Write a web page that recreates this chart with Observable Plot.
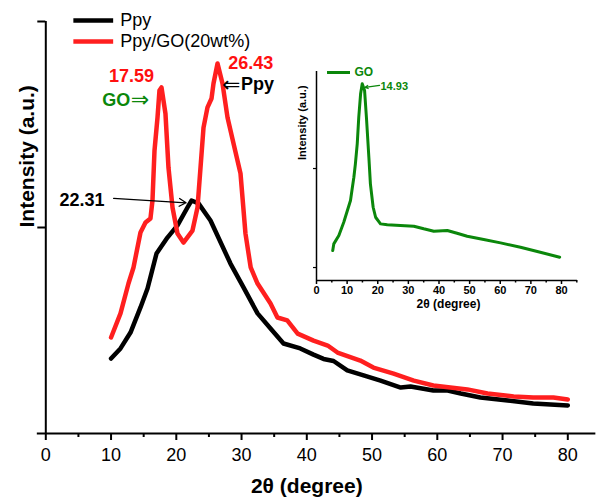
<!DOCTYPE html>
<html><head><meta charset="utf-8">
<script src="https://cdn.jsdelivr.net/npm/d3@7"></script>
<script src="https://cdn.jsdelivr.net/npm/@observablehq/plot@0.6"></script>
<style>
body{margin:0;background:#fff;}
#wrap{position:relative;width:596px;height:503px;overflow:hidden;background:#fff;}
#wrap svg{position:absolute;overflow:visible;background:transparent;}
</style></head><body><div id="wrap"></div>
<script>
// ---- main chart data (2θ in degrees, intensity in arbitrary units) ----
const ppyTheta = [10, 11.45, 12.98, 14.51, 15.59, 16.97, 18.64, 20.18, 21.71, 22.33, 23.4, 25.24, 28.3, 30.3, 32.45, 34.44, 36.43, 39.0, 41.03, 42.56, 44.1, 46.2, 48.7, 51.3, 54.4, 55.9, 59.4, 61.6, 63.6, 66.6, 70.8, 74.7, 80];
const ppyIntensity = [0.364, 0.413, 0.490, 0.612, 0.704, 0.874, 0.951, 1.010, 1.097, 1.131, 1.117, 1.034, 0.825, 0.709, 0.583, 0.510, 0.437, 0.413, 0.383, 0.362, 0.352, 0.306, 0.282, 0.257, 0.223, 0.228, 0.209, 0.209, 0.194, 0.175, 0.160, 0.146, 0.136];

const compTheta = [10, 11.45, 12.67, 13.44, 14.51, 15.28, 16.04, 16.35, 16.66, 17.12, 17.42, 17.73, 18.34, 18.8, 19.42, 20.18, 21.1, 22.48, 23.25, 23.71, 24.17, 24.78, 25.4, 25.7, 26.32, 27.08, 27.85, 28.77, 29.84, 30.6, 31.4, 32.45, 34.44, 35.5, 37.0, 38.6, 41.03, 43.2, 44.7, 48.2, 50.2, 53.3, 56.4, 59.4, 64.6, 67.7, 71.7, 74.7, 77.8, 80];
const compIntensity = [0.466, 0.583, 0.728, 0.806, 0.976, 1.024, 1.044, 1.131, 1.374, 1.534, 1.665, 1.680, 1.553, 1.291, 1.097, 0.971, 0.927, 0.985, 1.097, 1.291, 1.485, 1.583, 1.626, 1.699, 1.796, 1.699, 1.534, 1.408, 1.262, 0.971, 0.806, 0.728, 0.631, 0.563, 0.549, 0.485, 0.451, 0.427, 0.393, 0.354, 0.320, 0.291, 0.257, 0.233, 0.214, 0.194, 0.180, 0.175, 0.175, 0.165];

// ---- inset data (GO) ----
const goTheta = [5.3, 5.65, 7.3, 8.9, 11.1, 11.65, 12.2, 12.7, 13.3, 13.8, 14.4, 14.93, 15.7, 16.3, 17.1, 17.6, 18.5, 19.3, 20.9, 23.1, 27.4, 31.8, 35.0, 38.3, 42.7, 45.9, 49.2, 54.6, 60.1, 66.6, 72.1, 79.4];
const goIntensity = [0.172, 0.239, 0.323, 0.458, 0.677, 0.795, 0.912, 1.047, 1.249, 1.518, 1.755, 1.856, 1.788, 1.518, 1.114, 0.845, 0.609, 0.508, 0.441, 0.431, 0.424, 0.417, 0.391, 0.367, 0.374, 0.346, 0.316, 0.283, 0.249, 0.205, 0.162, 0.104];

// ---- ticks and labels ----
const mainXTicks = [0, 10, 20, 30, 40, 50, 60, 70, 80];
const mainXMinor = [5, 15, 25, 35, 45, 55, 65, 75];
const mainYTicks = [1, 2];
const insetXTicks = [0, 10, 20, 30, 40, 50, 60, 70, 80];
const insetXMinor = [5, 15, 25, 35, 45, 55, 65, 75, 85];
const insetYTicks = [0, 1];
const seriesNames = ["Ppy", "Ppy/GO(20wt%)"];
const insetSeriesName = "GO";
const xTitle = "2θ (degree)";
const yTitle = "Intensity (a.u.)";

// peak annotations (positions in data units)
const peakLabels = [
  {x: 13.15, y: 1.733, text: "17.59", color: "red", anchor: "middle"},
  {x: 31.4, y: 1.796, text: "26.43", color: "red", anchor: "middle"},
  {x: 9.0, y: 1.131, text: "22.31", color: "black", anchor: "end"},
  {x: 8.64, y: 1.617, text: "GO", color: "green", anchor: "start"},
  {x: 29.9, y: 1.694, text: "Ppy", color: "black", anchor: "start"}
];
const arrowGlyphs = [
  {x: 13.0, y: 1.617, text: "⇒", color: "green"},
  {x: 27.0, y: 1.694, text: "⇐", color: "black"}
];
const peakArrow = [{x1: 10.4, y1: 1.141, x2: 21.5, y2: 1.12}];
const insetPeakLabel = [{x: 20.9, y: 1.828, text: "14.93"}];
const insetArrow = [{x1: 20.6, y1: 1.84, x2: 15.9, y2: 1.82}];

const RED = "#ff1f1f", GREEN = "#0b870b", FONT = "'Liberation Sans', Arial, sans-serif";
const colorOf = c => c === "red" ? "#ff1010" : c === "green" ? GREEN : "#000";

const ppy = ppyTheta.map((x, i) => ({x, y: ppyIntensity[i]}));
const comp = compTheta.map((x, i) => ({x, y: compIntensity[i]}));
const go = goTheta.map((x, i) => ({x, y: goIntensity[i]}));

const labelMarks = ["start", "middle", "end"].map(a =>
  Plot.text(peakLabels.filter(d => d.anchor === a), {x: "x", y: "y", text: "text", fill: d => colorOf(d.color), textAnchor: a, fontSize: 18, fontWeight: "bold"})
);

const main = Plot.plot({
  width: 596, height: 503,
  marginLeft: 45.3, marginRight: 28.7, marginTop: 21, marginBottom: 70,
  x: {domain: [0, 80]},
  y: {domain: [0, 2]},
  style: {fontFamily: FONT, background: "transparent", color: "#000"},
  marks: [
    Plot.ruleY([0], {x1: -1.3, x2: 84.3, strokeWidth: 2}),
    Plot.ruleX([0], {y1: 0, y2: 2, strokeWidth: 2}),
    Plot.axisX({ticks: mainXTicks, tickSize: 7, tickPadding: 8, fontSize: 18, strokeWidth: 2, label: null, tickFormat: d => String(d)}),
    Plot.axisX({ticks: mainXMinor, tickSize: 4, strokeWidth: 2, label: null, tickFormat: () => ""}),
    Plot.axisY({ticks: mainYTicks, tickSize: 8, strokeWidth: 2, label: null, tickFormat: () => ""}),
    Plot.text([xTitle], {frameAnchor: "bottom", dy: 59, fontSize: 21, fontWeight: "bold"}),
    Plot.text([yTitle], {frameAnchor: "left", dx: -19, rotate: -90, fontSize: 21, fontWeight: "bold"}),
    Plot.line(ppy, {x: "x", y: "y", stroke: "#000", strokeWidth: 4.5, strokeLinejoin: "round"}),
    Plot.line(comp, {x: "x", y: "y", stroke: RED, strokeWidth: 4.5, strokeLinejoin: "round"}),
    // legend
    Plot.ruleY([2.005], {x1: 4.3, x2: 10.4, stroke: "#000", strokeWidth: 4.5}),
    Plot.ruleY([1.903], {x1: 4.3, x2: 10.4, stroke: RED, strokeWidth: 4.5}),
    Plot.text([{x: 11.4, y: 2.005, t: seriesNames[0]}, {x: 11.4, y: 1.903, t: seriesNames[1]}], {x: "x", y: "y", text: "t", textAnchor: "start", fontSize: 18}),
    // annotations
    ...labelMarks,
    Plot.text(arrowGlyphs, {x: "x", y: "y", text: "text", fill: d => colorOf(d.color), textAnchor: "start", fontSize: 22, fontFamily: "'DejaVu Sans', sans-serif"}),
    Plot.arrow(peakArrow, {x1: "x1", y1: "y1", x2: "x2", y2: "y2", stroke: "#000", strokeWidth: 1.3, headLength: 9})
  ]
});

const inset = Plot.plot({
  width: 336, height: 265,
  marginLeft: 56, marginRight: 35, marginTop: 16, marginBottom: 40,
  x: {domain: [0, 80]},
  y: {domain: [-0.131, 1.98]},
  style: {fontFamily: FONT, background: "transparent", color: "#000"},
  marks: [
    Plot.ruleY([-0.131], {x1: 0, x2: 85.2, strokeWidth: 1.5}),
    Plot.ruleX([0], {y1: -0.131, y2: 1.98, strokeWidth: 1.5}),
    Plot.axisX({ticks: insetXTicks, tickSize: 4, tickPadding: 2, fontSize: 11, fontWeight: "bold", strokeWidth: 1.5, label: null, tickFormat: d => String(d)}),
    Plot.axisX({ticks: insetXMinor, tickSize: 2.5, strokeWidth: 1.5, label: null, tickFormat: () => ""}),
    Plot.axisY({ticks: insetYTicks, tickSize: 3, strokeWidth: 1.2, label: null, tickFormat: () => ""}),
    Plot.text([xTitle], {frameAnchor: "bottom", dx: 9.5, dy: 27, fontSize: 12, fontWeight: "bold"}),
    Plot.text([yTitle], {frameAnchor: "left", dx: -14.5, dy: -16, rotate: -90, fontSize: 11, fontWeight: "bold"}),
    Plot.line(go, {x: "x", y: "y", stroke: GREEN, strokeWidth: 3, strokeLinejoin: "round"}),
    Plot.ruleY([1.97], {x1: 3.6, x2: 11.1, stroke: GREEN, strokeWidth: 3}),
    Plot.text([{x: 12.4, y: 1.97, t: insetSeriesName}], {x: "x", y: "y", text: "t", textAnchor: "start", fill: GREEN, fontSize: 12, fontWeight: "bold"}),
    Plot.text(insetPeakLabel, {x: "x", y: "y", text: "text", textAnchor: "start", fill: GREEN, fontSize: 11, fontWeight: "bold"}),
    Plot.arrow(insetArrow, {x1: "x1", y1: "y1", x2: "x2", y2: "y2", stroke: GREEN, strokeWidth: 1.2, headLength: 4})
  ]
});

const wrap = document.getElementById("wrap");
main.style.left = "0px"; main.style.top = "0px";
inset.style.left = "260px"; inset.style.top = "55px";
wrap.appendChild(main);
wrap.appendChild(inset);
</script>
</body></html>
